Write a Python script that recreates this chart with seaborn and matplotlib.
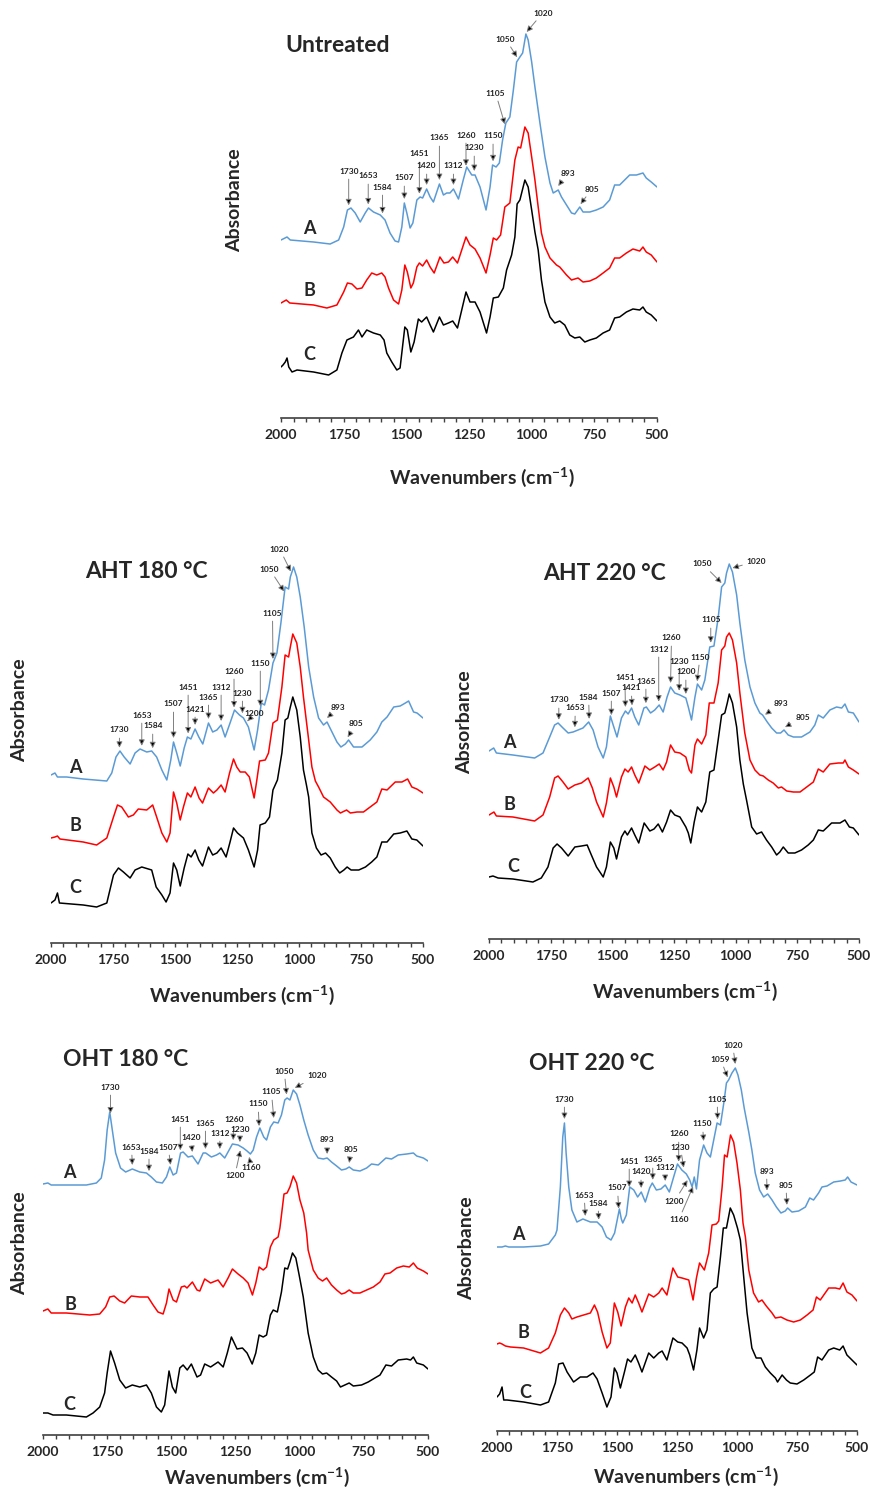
import numpy as np
import pandas as pd
import matplotlib
matplotlib.use("Agg")
import matplotlib.pyplot as plt
import seaborn as sns
from matplotlib.ticker import MultipleLocator

# spectra: (wavenumber cm-1, absorbance a.u.)
UNT_A = [(2000,178),(1976,181),(1963,178),(1870,176),(1804,174),(1770,178),(1750,191),(1735,208),(1721,210),(1704,205),(1684,196),(1664,205),(1651,210),(1631,206),(1604,203),(1585,198),(1565,185),(1545,177),(1531,176),(1518,191),(1508,215),(1498,205),(1485,190),(1474,195),(1458,218),(1445,221),(1435,220),(1419,229),(1405,221),(1392,216),(1368,234),(1352,223),(1339,225),(1326,225),(1312,229),(1292,219),(1273,238),(1259,251),(1239,243),(1226,243),(1206,231),(1182,208),(1166,231),(1156,253),(1142,251),(1129,255),(1116,278),(1103,295),(1087,301),(1073,328),(1060,356),(1047,361),(1036,365),(1023,384),(1014,378),(1000,356),(987,331),(967,295),(947,261),(927,235),(914,225),(894,228),(881,221),(861,213),(841,205),(828,204),(808,211),(795,206),(768,206),(742,208),(715,211),(689,218),(669,233),(649,233),(629,238),(609,243),(582,243),(556,245),(543,240),(523,236),(500,231)]
UNT_B = [(2000,115),(1979,118),(1965,115),(1870,113),(1817,110),(1777,113),(1750,126),(1735,135),(1717,134),(1697,129),(1677,130),(1658,138),(1638,145),(1618,143),(1598,145),(1585,141),(1571,130),(1551,118),(1531,114),(1518,128),(1506,153),(1496,146),(1482,130),(1472,135),(1458,151),(1448,155),(1435,152),(1419,158),(1405,151),(1389,145),(1366,161),(1350,155),(1332,156),(1315,161),(1296,155),(1279,168),(1262,181),(1246,173),(1226,169),(1206,160),(1182,145),(1166,163),(1153,180),(1140,178),(1124,183),(1107,211),(1087,215),(1067,258),(1054,271),(1044,270),(1027,291),(1014,285),(1000,261),(987,238),(974,211),(961,185),(947,171),(927,160),(901,153),(888,151),(861,143),(841,138),(815,140),(795,136),(768,137),(742,140),(715,145),(689,150),(669,160),(649,160),(622,165),(596,169),(569,167),(556,171),(543,166),(523,163),(500,156)]
UNT_C = [(2000,51),(1992,53),(1983,56),(1976,60),(1969,51),(1956,46),(1936,48),(1870,46),(1810,43),(1777,48),(1757,65),(1737,78),(1711,81),(1691,88),(1677,81),(1658,88),(1631,85),(1604,83),(1589,78),(1578,65),(1558,56),(1538,48),(1525,50),(1506,91),(1496,88),(1482,66),(1469,76),(1452,99),(1439,96),(1419,101),(1405,93),(1392,86),(1368,101),(1352,93),(1332,95),(1315,97),(1296,90),(1279,108),(1262,126),(1246,116),(1226,116),(1206,106),(1180,85),(1166,101),(1153,120),(1133,121),(1113,130),(1100,148),(1080,163),(1067,181),(1058,214),(1047,218),(1027,238),(1014,231),(1000,208),(987,186),(974,168),(961,138),(947,116),(927,101),(908,95),(888,97),(868,93),(848,83),(828,80),(808,81),(788,76),(768,78),(742,80),(715,85),(689,88),(669,100),(649,101),(622,106),(596,109),(569,108),(556,111),(543,106),(523,103),(500,97)]

A180_A = [(2000,168),(1984,170),(1974,166),(1937,166),(1870,164),(1775,162),(1755,170),(1738,186),(1722,192),(1705,186),(1681,179),(1661,190),(1641,194),(1614,191),(1594,192),(1574,186),(1553,173),(1533,163),(1517,183),(1506,201),(1493,190),(1479,177),(1463,195),(1450,206),(1436,204),(1419,214),(1404,206),(1388,199),(1365,220),(1348,211),(1331,213),(1314,218),(1298,206),(1278,220),(1260,233),(1240,228),(1224,225),(1204,216),(1181,193),(1167,213),(1152,240),(1139,238),(1123,253),(1105,280),(1089,290),(1073,320),(1056,356),(1042,354),(1035,366),(1022,376),(1009,366),(995,346),(979,316),(961,276),(941,246),(921,225),(901,218),(887,221),(867,211),(847,201),(831,196),(813,199),(800,203),(780,196),(746,196),(713,203),(686,211),(666,221),(645,226),(618,236),(592,237),(571,240),(558,242),(538,231),(524,230),(500,225)]
A180_B = [(2000,105),(1984,106),(1974,107),(1964,104),(1870,101),(1816,98),(1775,105),(1748,126),(1732,138),(1715,136),(1688,126),(1668,128),(1648,134),(1614,133),(1590,138),(1574,126),(1553,110),(1533,101),(1520,110),(1506,151),(1493,140),(1479,123),(1466,136),(1450,150),(1436,146),(1419,156),(1403,145),(1389,140),(1365,155),(1345,150),(1331,153),(1314,158),(1298,151),(1280,170),(1264,184),(1251,176),(1237,171),(1217,171),(1200,166),(1181,145),(1170,163),(1159,182),(1136,183),(1123,190),(1105,220),(1087,223),(1069,256),(1056,288),(1042,286),(1035,296),(1025,309),(1009,300),(995,276),(982,246),(961,203),(948,176),(934,162),(921,156),(901,146),(874,141),(847,133),(833,130),(808,133),(793,130),(766,131),(740,131),(713,136),(686,141),(666,154),(645,153),(612,161),(585,161),(562,164),(545,156),(525,154),(500,150)]
A180_C = [(2000,40),(1984,43),(1974,50),(1966,40),(1870,38),(1816,36),(1775,40),(1748,68),(1728,75),(1708,71),(1681,65),(1661,73),(1634,76),(1594,73),(1576,56),(1553,48),(1536,41),(1520,50),(1506,80),(1493,73),(1479,57),(1463,75),(1448,89),(1435,86),(1419,93),(1404,83),(1389,77),(1365,96),(1348,88),(1331,90),(1314,95),(1294,86),(1278,101),(1264,115),(1248,110),(1224,105),(1204,93),(1181,76),(1167,93),(1157,118),(1136,120),(1119,126),(1105,153),(1087,163),(1069,190),(1056,223),(1045,225),(1035,236),(1025,246),(1009,233),(995,206),(982,173),(970,158),(961,146),(948,110),(930,95),(911,88),(893,90),(874,85),(854,76),(836,70),(819,73),(806,76),(790,73),(759,73),(732,76),(707,81),(686,86),(666,101),(645,101),(618,109),(592,110),(565,112),(545,104),(525,103),(500,97)]

A220_A = [(2000,188),(1981,191),(1970,186),(1903,184),(1815,181),(1781,186),(1754,202),(1734,214),(1720,216),(1700,211),(1679,206),(1659,207),(1639,209),(1619,211),(1596,217),(1578,209),(1558,192),(1537,181),(1524,192),(1508,223),(1494,212),(1481,202),(1463,221),(1447,228),(1436,225),(1422,231),(1409,222),(1393,214),(1372,231),(1362,232),(1345,226),(1328,229),(1310,234),(1294,227),(1278,242),(1264,252),(1247,246),(1226,244),(1202,241),(1192,232),(1179,219),(1165,242),(1155,255),(1138,249),(1125,259),(1105,292),(1088,293),(1071,321),(1057,352),(1044,356),(1037,366),(1026,375),(1013,367),(996,344),(983,316),(963,279),(942,252),(922,236),(902,226),(891,224),(872,217),(854,211),(834,206),(818,206),(804,209),(787,204),(766,202),(733,202),(699,207),(679,214),(665,224),(645,221),(618,229),(591,232),(570,231),(557,235),(543,227),(523,226),(500,217)]
A220_B = [(2000,124),(1980,127),(1970,123),(1903,122),(1815,118),(1781,124),(1754,142),(1734,161),(1720,163),(1700,157),(1679,150),(1652,154),(1625,156),(1598,161),(1581,151),(1564,137),(1537,122),(1524,136),(1508,161),(1494,152),(1483,142),(1463,162),(1449,170),(1436,167),(1422,172),(1409,164),(1393,156),(1368,173),(1348,169),(1328,172),(1310,175),(1294,169),(1280,177),(1264,194),(1247,187),(1226,186),(1202,182),(1188,169),(1179,166),(1165,194),(1155,200),(1138,195),(1121,204),(1107,236),(1088,236),(1071,256),(1057,289),(1044,293),(1037,302),(1026,306),(1013,299),(996,276),(983,246),(963,206),(942,179),(922,169),(902,164),(888,163),(868,159),(848,156),(827,151),(814,152),(793,148),(766,147),(739,147),(712,152),(685,157),(665,170),(645,167),(618,175),(584,176),(564,176),(557,179),(543,172),(523,169),(500,165)]
A220_C = [(2000,62),(1984,63),(1963,61),(1903,60),(1822,57),(1788,61),(1761,72),(1740,91),(1724,95),(1706,91),(1679,83),(1652,92),(1625,93),(1602,94),(1585,84),(1564,72),(1537,62),(1524,72),(1508,97),(1494,91),(1483,80),(1463,102),(1449,108),(1439,104),(1422,111),(1409,104),(1393,96),(1371,116),(1348,108),(1331,110),(1314,115),(1297,107),(1280,117),(1264,129),(1247,124),(1226,122),(1202,112),(1192,106),(1182,96),(1168,117),(1155,132),(1138,127),(1121,137),(1105,167),(1088,169),(1071,199),(1057,224),(1044,226),(1034,236),(1026,245),(1013,236),(996,212),(983,179),(969,155),(956,139),(935,112),(915,105),(895,107),(875,99),(854,92),(834,84),(821,87),(807,92),(787,86),(760,86),(733,89),(706,94),(685,99),(665,109),(645,108),(611,116),(577,116),(557,119),(539,112),(523,111),(500,104)]

O180_A = [(2000,251),(1981,252),(1968,250),(1909,250),(1831,250),(1792,252),(1773,257),(1760,275),(1750,305),(1740,323),(1730,305),(1717,282),(1698,267),(1678,263),(1652,266),(1623,263),(1597,262),(1578,258),(1558,253),(1535,252),(1519,258),(1506,268),(1493,260),(1480,262),(1464,282),(1454,283),(1435,278),(1418,279),(1396,271),(1376,282),(1366,282),(1344,278),(1324,280),(1311,282),(1292,277),(1262,291),(1240,290),(1220,287),(1205,284),(1192,281),(1181,285),(1168,298),(1155,307),(1140,298),(1129,295),(1114,308),(1101,313),(1084,312),(1071,320),(1058,335),(1049,337),(1038,335),(1025,345),(1012,341),(999,330),(984,315),(967,300),(947,285),(928,277),(908,276),(893,277),(876,273),(856,269),(837,265),(820,266),(807,268),(791,265),(765,264),(739,267),(720,271),(694,270),(664,277),(642,276),(616,280),(583,281),(557,282),(544,279),(518,277),(500,274)]
O180_B = [(2000,124),(1981,126),(1968,122),(1909,122),(1818,120),(1779,121),(1756,128),(1740,138),(1723,139),(1701,134),(1682,132),(1656,139),(1623,138),(1591,138),(1571,130),(1552,123),(1532,121),(1519,132),(1509,146),(1493,135),(1480,133),(1461,148),(1448,149),(1439,147),(1418,153),(1400,145),(1389,144),(1370,156),(1347,152),(1318,155),(1298,148),(1279,157),(1262,166),(1240,161),(1220,157),(1201,152),(1184,140),(1171,152),(1158,168),(1142,165),(1129,168),(1114,188),(1101,195),(1084,198),(1077,207),(1061,241),(1049,242),(1038,248),(1025,259),(1012,252),(999,235),(984,222),(973,202),(967,185),(947,165),(928,157),(911,154),(895,157),(876,150),(856,145),(837,141),(824,142),(807,145),(791,142),(765,142),(739,145),(713,148),(687,153),(668,161),(648,162),(622,167),(596,169),(573,168),(557,172),(542,167),(518,164),(500,161)]
O180_C = [(2000,22),(1981,22),(1961,20),(1909,20),(1831,18),(1805,22),(1779,28),(1760,42),(1750,62),(1737,84),(1721,72),(1701,55),(1678,47),(1652,50),(1623,48),(1597,50),(1578,42),(1558,28),(1539,23),(1526,30),(1509,64),(1496,48),(1483,42),(1467,67),(1454,70),(1438,65),(1422,71),(1400,58),(1386,60),(1370,71),(1347,68),(1318,73),(1298,68),(1282,82),(1266,98),(1244,86),(1223,87),(1205,82),(1185,71),(1171,82),(1158,100),(1142,98),(1129,100),(1114,120),(1103,125),(1087,123),(1071,143),(1058,167),(1047,166),(1038,173),(1028,182),(1015,177),(1002,160),(986,138),(967,102),(947,78),(928,65),(911,61),(895,62),(876,58),(856,54),(841,48),(824,50),(807,52),(791,49),(759,50),(733,53),(707,57),(687,60),(664,70),(642,69),(616,75),(583,76),(568,75),(557,78),(544,72),(518,70),(500,66)]

O220_A = [(2000,184),(1979,184),(1965,185),(1951,184),(1889,184),(1819,185),(1785,187),(1757,196),(1750,201),(1736,244),(1726,294),(1719,308),(1712,278),(1701,244),(1688,221),(1667,209),(1642,212),(1611,209),(1583,209),(1562,204),(1544,194),(1525,191),(1510,198),(1500,210),(1490,222),(1482,212),(1476,208),(1461,216),(1447,244),(1430,241),(1414,234),(1399,239),(1382,229),(1364,243),(1353,248),(1336,241),(1317,242),(1299,246),(1282,239),(1264,254),(1248,267),(1230,261),(1211,257),(1197,251),(1187,244),(1178,254),(1169,242),(1156,271),(1139,286),(1125,278),(1111,274),(1097,291),(1083,308),(1069,306),(1055,328),(1044,348),(1035,351),(1021,358),(1007,363),(996,356),(982,341),(970,323),(951,299),(938,281),(924,258),(906,241),(889,234),(872,237),(854,231),(836,224),(817,218),(799,220),(789,223),(771,219),(743,220),(715,224),(697,233),(681,231),(660,238),(646,244),(625,245),(597,249),(569,250),(549,251),(539,254),(525,249),(500,246)]
O220_B = [(2000,87),(1989,88),(1979,87),(1965,85),(1944,84),(1889,83),(1819,78),(1785,83),(1757,98),(1736,116),(1719,123),(1701,118),(1688,112),(1667,114),(1639,116),(1611,118),(1594,126),(1581,119),(1562,99),(1542,83),(1528,88),(1511,128),(1497,119),(1483,105),(1465,124),(1451,133),(1437,128),(1424,136),(1410,128),(1396,119),(1368,137),(1347,134),(1326,138),(1312,143),(1292,136),(1267,163),(1247,154),(1229,153),(1201,151),(1183,131),(1169,153),(1156,168),(1136,161),(1118,178),(1104,206),(1086,207),(1076,210),(1062,244),(1052,276),(1041,274),(1027,296),(1014,289),(1000,268),(986,241),(975,208),(965,194),(951,161),(931,138),(910,129),(896,131),(878,125),(854,118),(840,113),(817,114),(792,111),(764,109),(736,111),(708,116),(683,121),(669,134),(653,131),(618,143),(590,143),(572,142),(558,148),(542,139),(521,136),(500,130)]
O220_C = [(2000,34),(1989,37),(1979,44),(1972,31),(1958,31),(1889,29),(1819,26),(1785,29),(1757,48),(1743,67),(1725,68),(1708,59),(1681,49),(1653,54),(1625,54),(1600,58),(1583,52),(1562,38),(1542,24),(1525,34),(1511,63),(1500,58),(1486,43),(1469,59),(1456,72),(1442,69),(1424,76),(1410,68),(1396,59),(1368,78),(1347,73),(1326,78),(1312,80),(1292,71),(1267,93),(1247,89),(1229,88),(1208,83),(1197,76),(1181,61),(1167,81),(1156,103),(1139,93),(1125,101),(1111,138),(1097,142),(1083,144),(1069,174),(1057,203),(1044,203),(1028,223),(1014,216),(998,203),(986,191),(972,154),(958,118),(938,83),(920,73),(900,73),(882,64),(861,58),(840,53),(831,49),(812,56),(794,51),(778,48),(750,47),(722,51),(694,56),(678,59),(664,74),(646,71),(618,81),(597,83),(572,81),(558,85),(542,76),(521,71),(500,66)]

# peak labels: (text, label wn, label height, arrow wn)
UNT_PEAKS = [("1730",1730,247,1730),("1653",1652,242,1652),("1584",1595,231,1595),("1507",1508,240,1508),("1451",1448,264,1448),("1420",1419,252,1419),("1365",1368,280,1368),("1312",1312,252,1312),("1260",1262,283,1262),("1230",1229,270,1229),("1150",1154,282,1154),("1105",1144,325,1107),("1050",1104,379,1058),("1020",956,405,1020),("893",856,245,894),("805",760,229,805)]
A180_PEAKS = [("1730",1724,213,1724),("1653",1634,228,1634),("1584",1590,217,1590),("1507",1506,239,1506),("1451",1447,256,1447),("1421",1419,234,1419),("1365",1365,246,1365),("1312",1314,256,1314),("1260",1262,272,1262),("1230",1228,250,1228),("1200",1180,229,1208),("1150",1156,280,1156),("1105",1107,330,1105),("1050",1119,374,1060),("1020",1078,394,1033),("893",844,235,887),("805",769,219,804)]
A220_PEAKS = [("1730",1717,239,1717),("1653",1650,231,1652),("1584",1596,242,1594),("1507",1504,246,1504),("1451",1449,261,1447),("1421",1424,251,1420),("1365",1364,258,1364),("1312",1312,290,1312),("1260",1260,301,1264),("1230",1229,278,1229),("1200",1202,267,1202),("1150",1145,282,1156),("1105",1101,319,1101),("1050",1134,375,1057),("1020",915,378,1013),("893",818,235,881),("805",729,222,800)]
O180_PEAKS = [("1730",1737,348,1737),("1653",1655,288,1652),("1584",1587,284,1587),("1507",1512,288,1503),("1451",1465,316,1465),("1420",1424,297,1418),("1365",1367,312,1367),("1312",1311,302,1311),("1260",1257,316,1259),("1230",1232,305,1233),("1200",1253,259,1231),("1160",1188,267,1197),("1150",1162,331,1158),("1105",1110,343,1101),("1050",1060,364,1051),("1020",932,359,1019),("893",893,295,893),("805",800,286,807)]
O220_PEAKS = [("1730",1719,332,1719),("1653",1637,236,1632),("1584",1579,228,1576),("1507",1498,243,1493),("1451",1449,270,1449),("1420",1401,259,1399),("1365",1351,271,1351),("1312",1300,263,1299),("1260",1243,297,1243),("1230",1236,284,1222),("1200",1260,230,1206),("1160",1243,211,1183),("1150",1144,307,1139),("1105",1082,332,1081),("1059",1069,372,1039),("1020",1018,386,1007),("893",877,260,875),("805",796,246,792)]

SAMPLES = ["A", "B", "C"]
COLORS = {"A": "#5B9BD5", "B": "#FF0000", "C": "#000000"}

sns.set_style("white")
plt.rcParams["font.family"] = ["Lato", "DejaVu Sans"]
plt.rcParams["font.weight"] = "bold"
plt.rcParams["mathtext.fontset"] = "custom"
plt.rcParams["mathtext.rm"] = "Lato:bold"
plt.rcParams["mathtext.bf"] = "Lato:bold"

W, H = 873, 1490
fig = plt.figure(figsize=(W / 100, H / 100), dpi=100)


def fx(px):
    return px / W


def fy(py):
    return 1 - py / H


# pixel layout of each panel: left(2000), right(500), top, axis line
panels = [
    dict(name="Untreated", curves=[UNT_A, UNT_B, UNT_C], peaks=UNT_PEAKS,
         box=(281, 657, 0, 418), letters=[(1888, 190), (1888, 128), (1888, 63)],
         title=(285, 45), ylab=(235, 200), xlab=(482, 477)),
    dict(name="AHT 180 °C", curves=[A180_A, A180_B, A180_C], peaks=A180_PEAKS,
         box=(51, 423, 540, 943), letters=[(1903, 176), (1903, 118), (1903, 56)],
         title=(85, 572), ylab=(20, 710), xlab=(242, 995)),
    dict(name="AHT 220 °C", curves=[A220_A, A220_B, A220_C], peaks=A220_PEAKS,
         box=(489, 859, 540, 939), letters=[(1916, 196), (1916, 135), (1903, 72)],
         title=(543, 573), ylab=(465, 722), xlab=(685, 991)),
    dict(name="OHT 180 °C", curves=[O180_A, O180_B, O180_C], peaks=O180_PEAKS,
         box=(43, 428, 1040, 1435), letters=[(1896, 262), (1893, 131), (1896, 31)],
         title=(63, 1059), ylab=(20, 1243), xlab=(257, 1477)),
    dict(name="OHT 220 °C", curves=[O220_A, O220_B, O220_C], peaks=O220_PEAKS,
         box=(497, 857, 1030, 1431), letters=[(1910, 197), (1889, 98), (1882, 39)],
         title=(529, 1063), ylab=(467, 1248), xlab=(686, 1476)),
]

for p in panels:
    left, right, top, bottom = p["box"]
    ax = fig.add_axes([fx(left), fy(bottom), fx(right - left), (bottom - top) / H])
    ax.patch.set_alpha(0)

    frames = []
    for s, c in zip(SAMPLES, p["curves"]):
        d = pd.DataFrame(c, columns=["wn", "absorb"])
        d["sample"] = s
        frames.append(d)
    df = pd.concat(frames, ignore_index=True)
    sns.lineplot(data=df, x="wn", y="absorb", hue="sample", palette=COLORS,
                 estimator=None, sort=False, legend=False, linewidth=1.1, ax=ax)

    ax.set_xlim(2000, 500)
    ax.set_ylim(0, bottom - top)
    ax.set_xlabel("")
    ax.set_ylabel("")
    ax.set_yticks([])
    ax.set_xticks(np.arange(500, 2001, 250))
    ax.xaxis.set_minor_locator(MultipleLocator(50))
    ax.tick_params(axis="x", which="both", bottom=True, direction="out", length=3,
                   width=1, color="#404040", pad=5, labelsize=10)
    for lab in ax.get_xticklabels():
        lab.set_fontweight("bold")
    for side in ["left", "right", "top"]:
        ax.spines[side].set_visible(False)
    ax.spines["bottom"].set_color("#404040")
    ax.spines["bottom"].set_linewidth(1.2)

    # sample letters
    for s, (lx, ly) in zip(SAMPLES, p["letters"]):
        ax.text(lx, ly, s, fontsize=13, fontweight="bold", ha="center", va="center")

    # peak annotations on spectrum A
    a = np.array(p["curves"][0], dtype=float)
    xs, ys = a[::-1, 0], a[::-1, 1]
    for lab, tx, ty, wn in p["peaks"]:
        yc = np.interp(wn, xs, ys)
        tip = yc + 4 if ty > yc else yc - 4
        ax.annotate(lab, xy=(wn, tip), xytext=(tx, ty), fontsize=6, fontweight="bold",
                    color="#222222", ha="center", va="center",
                    arrowprops=dict(arrowstyle="-|>,head_length=0.5,head_width=0.25",
                                    fc="black", ec="#7f7f7f", lw=0.7,
                                    mutation_scale=7, shrinkA=1, shrinkB=0))

    fig.text(fx(p["title"][0]), fy(p["title"][1]), p["name"], fontsize=16.5,
             fontweight="bold", ha="left", va="center")
    fig.text(fx(p["ylab"][0]), fy(p["ylab"][1]), "Absorbance", fontsize=14,
             fontweight="bold", rotation=90, ha="center", va="center")
    fig.text(fx(p["xlab"][0]), fy(p["xlab"][1]), r"Wavenumbers (cm$^{-1}$)",
             fontsize=14, fontweight="bold", ha="center", va="center")

fig.savefig("out.png", dpi=100, facecolor="white")
